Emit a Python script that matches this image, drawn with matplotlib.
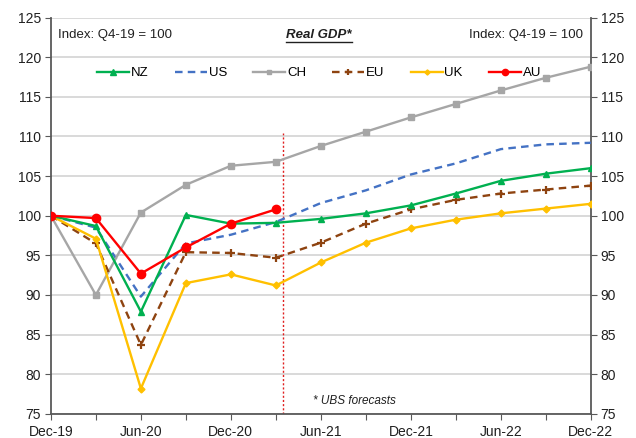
import matplotlib
matplotlib.use("Agg")
import matplotlib.pyplot as plt
import numpy as np

plt.rcParams['font.family'] = ['Liberation Sans', 'DejaVu Sans']

quarters = ["Dec-19", "Mar-20", "Jun-20", "Sep-20", "Dec-20", "Mar-21", "Jun-21",
            "Sep-21", "Dec-21", "Mar-22", "Jun-22", "Sep-22", "Dec-22"]
tick_labels = ["Dec-19", "", "Jun-20", "", "Dec-20", "", "Jun-21",
               "", "Dec-21", "", "Jun-22", "", "Dec-22"]

nz = [100, 98.7, 87.9, 100.1, 99.0, 99.1, 99.6, 100.3, 101.3, 102.8, 104.4, 105.3, 106.0]
us = [100, 98.5, 89.8, 96.5, 97.6, 99.2, 101.6, 103.2, 105.2, 106.6, 108.4, 109.0, 109.2]
ch = [100, 90.0, 100.4, 103.9, 106.3, 106.8, 108.8, 110.6, 112.4, 114.1, 115.8, 117.4, 118.8]
eu = [100, 96.5, 83.7, 95.4, 95.3, 94.7, 96.6, 99.0, 100.8, 102.0, 102.8, 103.3, 103.8]
uk = [100, 97.1, 78.2, 91.5, 92.6, 91.2, 94.1, 96.6, 98.4, 99.5, 100.3, 100.9, 101.5]
au = [100, 99.7, 92.7, 96.0, 99.0, 100.8]

forecast_start = 5.16

x = np.arange(len(quarters))

fig = plt.figure(figsize=(6.36, 4.38), dpi=100)
ax = fig.add_axes([0.080, 0.055, 0.849, 0.905])

grid_col = "#D0D0D0"
ax.set_ylim(75, 125)
ax.set_xlim(0, 12)
ax.set_yticks(np.arange(75, 126, 5))
ax.yaxis.grid(True, color=grid_col, linewidth=1.1)
ax.set_axisbelow(True)

fs = 9.5
lw = 1.7
ax.plot(x, nz, color="#00B050", lw=lw, marker="^", ms=5, label="NZ", zorder=4)
ax.plot(x, us, color="#4472C4", lw=lw, ls=(0, (3.2, 2.2)), label="US", zorder=3)
ax.plot(x, ch, color="#A6A6A6", lw=lw, marker="s", ms=4.5, label="CH", zorder=3)
ax.plot(x, eu, color="#8E4310", lw=lw, ls=(0, (3.2, 2.2)), marker="+", ms=6,
        mew=1.6, label="EU", zorder=3)
ax.plot(x, uk, color="#FFC000", lw=lw, marker="D", ms=3.5, label="UK", zorder=3)
ax.plot(x[:len(au)], au, color="#FF0000", lw=lw, marker="o", ms=6, label="AU", zorder=5)

ax.plot([forecast_start, forecast_start], [75, 110.4], color="#E02020",
        lw=1.0, ls=(0, (1.5, 1.5)), zorder=2)

ax.set_xticks(x)
ax.set_xticklabels(tick_labels)

ax.spines["top"].set_visible(False)
for side in ["left", "right", "bottom"]:
    ax.spines[side].set_color("#595959")
    ax.spines[side].set_linewidth(1.3)

ax.tick_params(axis="both", which="both", direction="out", length=4,
               color="#595959", labelsize=fs + 0.5, labelcolor="#202020")
ax.tick_params(axis="y", right=True, labelright=True, pad=3)
ax.tick_params(axis="x", pad=4)

ax.text(0.013, 0.972, "Index: Q4-19 = 100", transform=ax.transAxes,
        ha="left", va="top", fontsize=fs, color="#202020")
ax.text(0.985, 0.972, "Index: Q4-19 = 100", transform=ax.transAxes,
        ha="right", va="top", fontsize=fs, color="#202020")
title = ax.text(0.497, 0.972, "Real GDP*", transform=ax.transAxes, ha="center",
                va="top", fontsize=fs, fontweight="bold", style="italic",
                color="#202020")
ax.text(0.485, 0.032, "* UBS forecasts", transform=ax.transAxes, ha="left",
        va="center", fontsize=8.5, style="italic", color="#202020")

leg = ax.legend(loc="upper center", bbox_to_anchor=(0.497, 0.905), ncol=6,
                frameon=False, fontsize=fs, handlelength=2.4,
                columnspacing=2.0, handletextpad=0.15, markerscale=0.75)

# underline the title using its rendered extent
fig.canvas.draw()
bb = title.get_window_extent()
inv = fig.transFigure.inverted()
(x0, y0), (x1, _) = inv.transform([(bb.x0, bb.y0), (bb.x1, bb.y1)])
fig.add_artist(plt.Line2D([x0, x1], [y0 - 1.0 / 438, y0 - 1.0 / 438],
                          color="#202020", lw=1.0, transform=fig.transFigure))

fig.savefig("out.png", dpi=100)
